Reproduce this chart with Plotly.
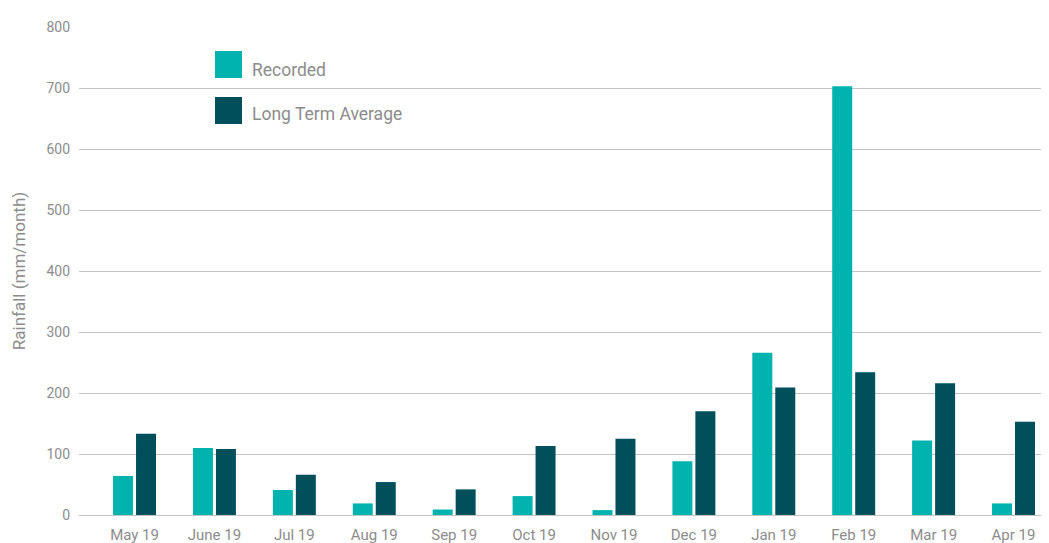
import plotly.graph_objects as go

months = ["May 19", "June 19", "Jul 19", "Aug 19", "Sep 19", "Oct 19",
          "Nov 19", "Dec 19", "Jan 19", "Feb 19", "Mar 19", "Apr 19"]
recorded = [64, 110, 41, 19, 9, 31, 8, 88, 266, 703, 122, 19]
long_term_avg = [133, 108, 66, 54, 42, 113, 125, 170, 209, 234, 216, 153]
y_ticks = [0, 100, 200, 300, 400, 500, 600, 700, 800]

REC_COLOR = "#00B3AE"
LTA_COLOR = "#004F5B"
TEXT_COLOR = "#8C8C8C"
GRID_COLOR = "#C4C4C4"
FONT = "Roboto, sans-serif"

fig = go.Figure()
fig.add_trace(go.Bar(x=months, y=recorded, name="Recorded",
                     marker=dict(color=REC_COLOR, line=dict(width=0))))
fig.add_trace(go.Bar(x=months, y=long_term_avg, name="Long Term Average",
                     marker=dict(color=LTA_COLOR, line=dict(width=0))))

# custom legend with large square swatches (paper coords relative to plot area)
legend_items = [("Recorded", REC_COLOR, 64.5, 69.5),
                ("Long Term Average", LTA_COLOR, 110.5, 113.5)]
for label, color, ys, yt in legend_items:
    fig.add_shape(type="rect", xref="paper", yref="paper",
                  x0=(215 - 79) / 970, x1=(242 - 79) / 970,
                  y0=(515 - (ys + 13.5)) / 488, y1=(515 - (ys - 13.5)) / 488,
                  fillcolor=color, line=dict(width=0), layer="above")
    fig.add_annotation(text=label, xref="paper", yref="paper",
                       x=(250 - 79) / 970, y=(515 - yt) / 488,
                       xanchor="left", yanchor="middle", showarrow=False,
                       font=dict(family=FONT, size=17.5, color=TEXT_COLOR))

# page body has an 8px margin, so the figure is 8px smaller and offset
fig.update_layout(
    width=1041, height=535,
    margin=dict(l=71, r=0, t=19, b=28),
    paper_bgcolor="white", plot_bgcolor="white",
    barmode="group", bargap=0.425, bargroupgap=0.13,
    showlegend=False,
    font=dict(family=FONT, color=TEXT_COLOR),
)
fig.update_xaxes(
    range=[-0.695, 11.444], showgrid=False, showline=False, ticks="",
    tickfont=dict(family=FONT, size=15, color=TEXT_COLOR),
    ticklabelstandoff=9,
)
fig.update_yaxes(
    range=[0, 800], tickvals=y_ticks, showgrid=True, gridcolor=GRID_COLOR, gridwidth=1,
    zeroline=True, zerolinecolor=GRID_COLOR, zerolinewidth=1, showline=False, ticks="",
    tickfont=dict(family=FONT, size=14, color=TEXT_COLOR),
    ticklabelstandoff=8,
    title=dict(text="Rainfall (mm/month)", standoff=16,
               font=dict(family=FONT, size=17, color=TEXT_COLOR)),
)

fig.write_html("out.html")
